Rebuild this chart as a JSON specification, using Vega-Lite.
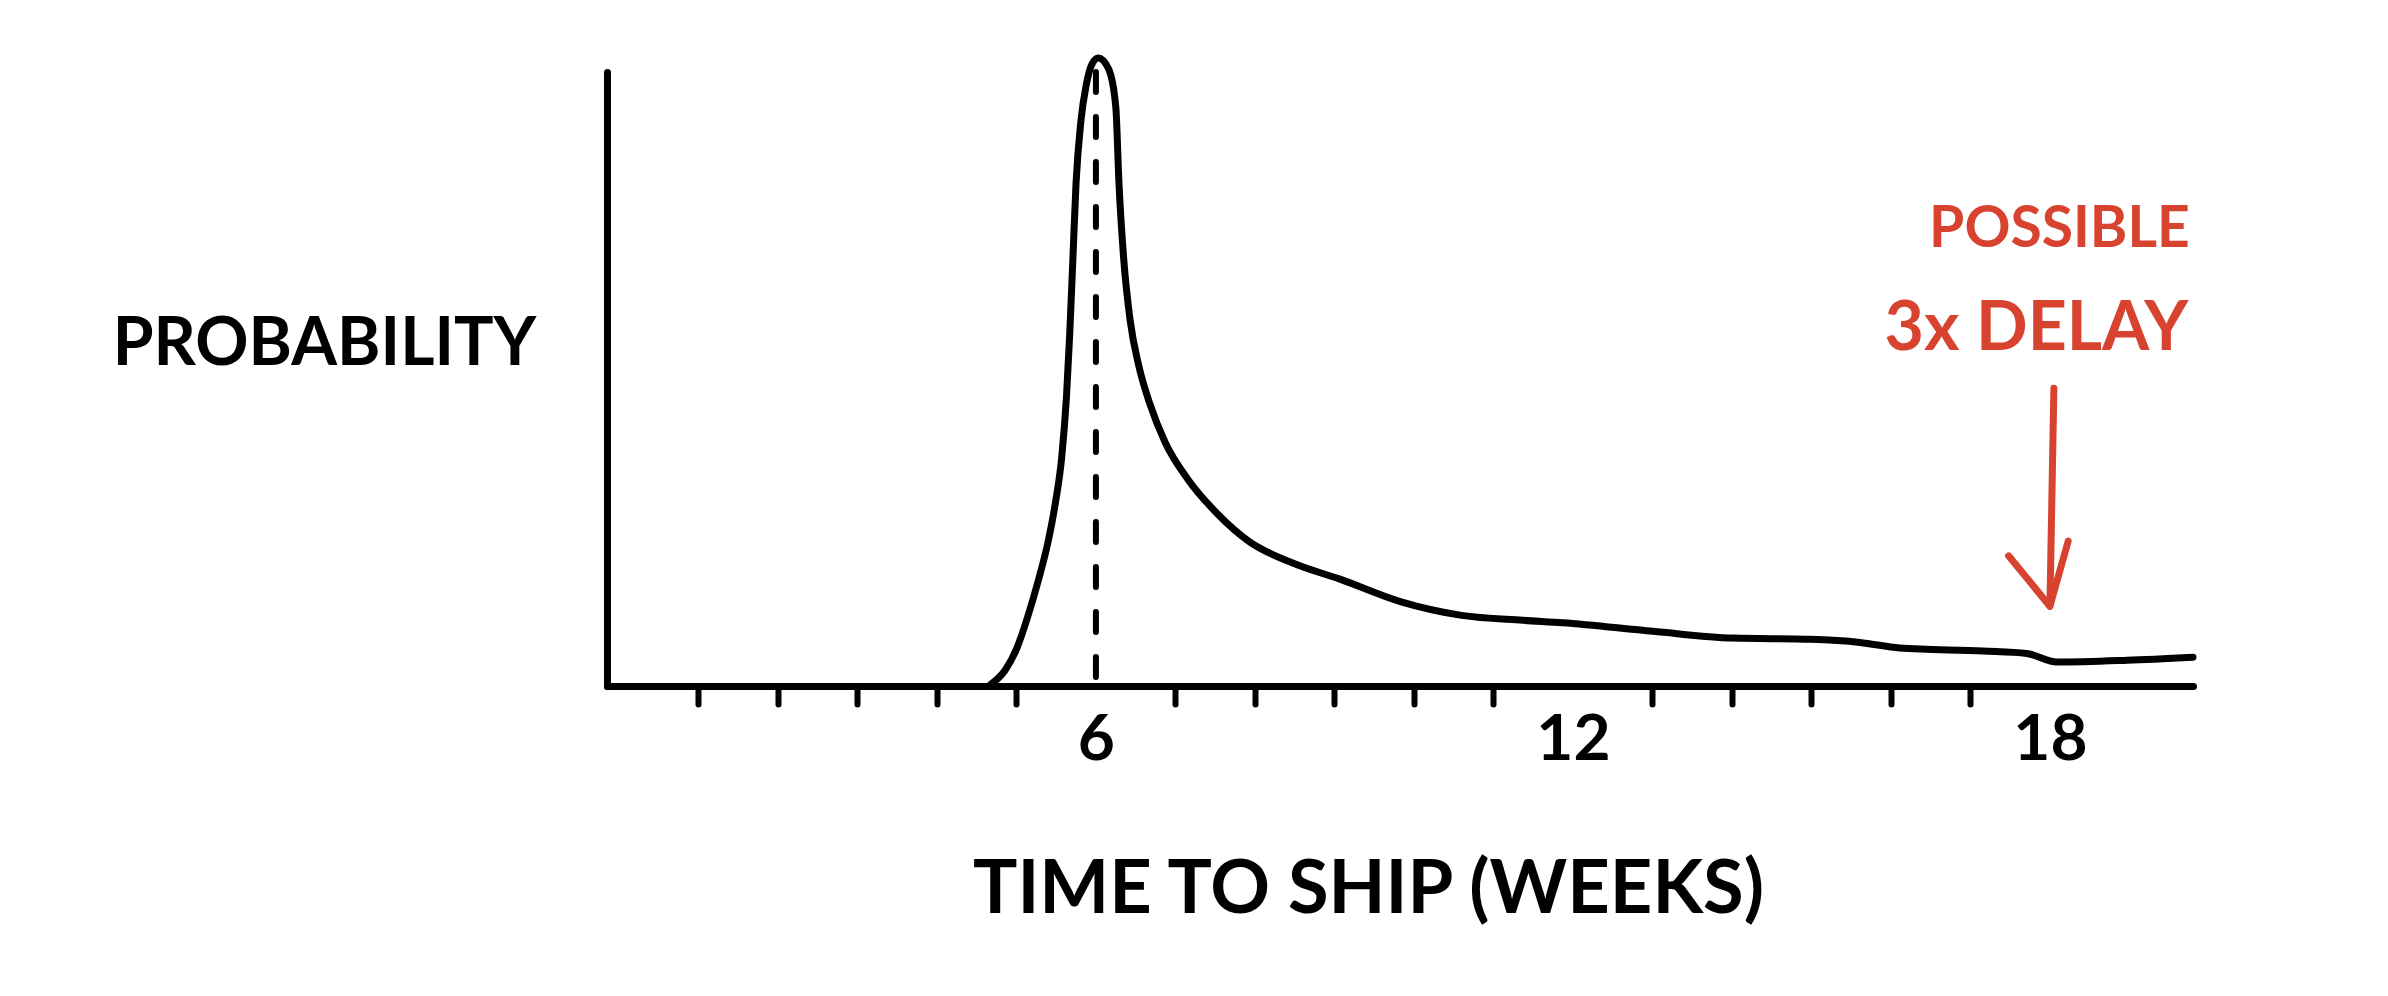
{
  "$schema": "https://vega.github.io/schema/vega-lite/v6.json",
  "width": 1586,
  "height": 614,
  "autosize": "none",
  "padding": {"left": 607, "top": 72, "right": 195, "bottom": 310},
  "background": "white",
  "config": {"view": {"stroke": null}, "font": "Lato"},
  "datasets": {
    "curve": [
      {"week": 4.67, "value": 0.2},
      {"week": 4.86, "value": 2.6},
      {"week": 5.01, "value": 6.3},
      {"week": 5.14, "value": 11.2},
      {"week": 5.28, "value": 17.4},
      {"week": 5.4, "value": 23.6},
      {"week": 5.49, "value": 29.8},
      {"week": 5.57, "value": 37.3},
      {"week": 5.63, "value": 47.2},
      {"week": 5.67, "value": 57.2},
      {"week": 5.71, "value": 69.5},
      {"week": 5.75, "value": 81.9},
      {"week": 5.81, "value": 91.9},
      {"week": 5.88, "value": 98.0},
      {"week": 5.95, "value": 101.3},
      {"week": 6.03, "value": 102.3},
      {"week": 6.16, "value": 100.5},
      {"week": 6.25, "value": 94.3},
      {"week": 6.29, "value": 81.9},
      {"week": 6.35, "value": 69.5},
      {"week": 6.43, "value": 59.6},
      {"week": 6.54, "value": 52.1},
      {"week": 6.68, "value": 45.9},
      {"week": 6.87, "value": 39.7},
      {"week": 7.16, "value": 33.6},
      {"week": 7.54, "value": 27.9},
      {"week": 7.92, "value": 23.6},
      {"week": 8.5, "value": 19.9},
      {"week": 9.07, "value": 17.4},
      {"week": 9.84, "value": 13.7},
      {"week": 10.6, "value": 11.5},
      {"week": 11.37, "value": 10.7},
      {"week": 11.87, "value": 10.3},
      {"week": 13.01, "value": 8.9},
      {"week": 14.01, "value": 7.8},
      {"week": 14.98, "value": 7.6},
      {"week": 15.61, "value": 7.1},
      {"week": 16.11, "value": 6.2},
      {"week": 17.16, "value": 5.7},
      {"week": 17.71, "value": 5.3},
      {"week": 18.09, "value": 3.9},
      {"week": 18.97, "value": 4.2},
      {"week": 19.8, "value": 4.7}
    ],
    "estimate": [
      {"week": 6, "low": 0, "high": 100}
    ],
    "arrow": [
      {"part": "shaft", "order": 1, "week": 18.05, "value": 48.5},
      {"part": "shaft", "order": 2, "week": 18.0, "value": 13.0},
      {"part": "head", "order": 1, "week": 17.48, "value": 21.2},
      {"part": "head", "order": 2, "week": 18.0, "value": 13.0},
      {"part": "head", "order": 3, "week": 18.23, "value": 23.6}
    ],
    "notes": [
      {"week": 18.12, "value": 74.3, "label": "POSSIBLE", "line": 1},
      {"week": 17.83, "value": 58.0, "label": "3x DELAY", "line": 2}
    ]
  },
  "layer": [
    {
      "data": {"name": "curve"},
      "mark": {"type": "line", "interpolate": "monotone", "strokeWidth": 7, "color": "black", "strokeCap": "round", "strokeJoin": "round"},
      "encoding": {
        "x": {
          "field": "week",
          "type": "quantitative",
          "scale": {"domain": [-0.15, 19.8], "nice": false, "zero": false},
          "axis": {
            "values": [1, 2, 3, 4, 5, 6, 7, 8, 9, 10, 11, 12, 13, 14, 15, 16, 17, 18],
            "domain": true,
            "domainWidth": 7,
            "domainColor": "black",
            "domainCap": "round",
            "ticks": true,
            "tickSize": 18,
            "tickWidth": 6,
            "tickColor": "black",
            "tickCap": "round",
            "tickOpacity": {"condition": {"test": "datum.value % 6 === 0", "value": 0}, "value": 1},
            "labelExpr": "datum.value % 6 === 0 ? format(datum.value, 'd') : ''",
            "labelFontSize": 64,
            "labelFont": "Lato",
            "labelFontWeight": "bold",
            "labelColor": "black",
            "labelPadding": 36,
            "labelBaseline": "middle",
            "labelFlush": false,
            "labelOverlap": false,
            "grid": false,
            "title": "TIME TO SHIP (WEEKS)",
            "titleFont": "Lato",
            "titleFontSize": 74,
            "titleFontWeight": "bold",
            "titleColor": "black",
            "titleX": 761,
            "titleY": 204,
            "titleAlign": "center",
            "titleBaseline": "middle"
          }
        },
        "y": {
          "field": "value",
          "type": "quantitative",
          "scale": {"domain": [0, 100], "nice": false},
          "axis": {
            "domain": true,
            "domainWidth": 7,
            "domainColor": "black",
            "domainCap": "round",
            "ticks": false,
            "labels": false,
            "grid": false,
            "title": "PROBABILITY",
            "titleAngle": 0,
            "titleX": -283,
            "titleY": 272,
            "titleAlign": "center",
            "titleBaseline": "middle",
            "titleFont": "Lato",
            "titleFontSize": 66,
            "titleFontWeight": "bold",
            "titleColor": "black"
          }
        }
      }
    },
    {
      "data": {"name": "estimate"},
      "mark": {"type": "rule", "strokeWidth": 6, "color": "black", "strokeDash": [20, 25], "strokeCap": "round"},
      "encoding": {
        "x": {"field": "week", "type": "quantitative"},
        "y": {"field": "high", "type": "quantitative"},
        "y2": {"field": "low"}
      }
    },
    {
      "data": {"name": "arrow"},
      "mark": {"type": "line", "strokeWidth": 7, "color": "#d8432f", "strokeCap": "round", "strokeJoin": "round"},
      "encoding": {
        "x": {"field": "week", "type": "quantitative"},
        "y": {"field": "value", "type": "quantitative"},
        "detail": {"field": "part"},
        "order": {"field": "order"}
      }
    },
    {
      "data": {"name": "notes"},
      "transform": [{"filter": "datum.line === 1"}],
      "mark": {"type": "text", "font": "Lato", "fontSize": 57, "fontWeight": "bold", "color": "#d8432f", "align": "center", "baseline": "middle"},
      "encoding": {
        "x": {"field": "week", "type": "quantitative"},
        "y": {"field": "value", "type": "quantitative"},
        "text": {"field": "label"}
      }
    },
    {
      "data": {"name": "notes"},
      "transform": [{"filter": "datum.line === 2"}],
      "mark": {"type": "text", "font": "Lato", "fontSize": 68, "fontWeight": "bold", "color": "#d8432f", "align": "center", "baseline": "middle"},
      "encoding": {
        "x": {"field": "week", "type": "quantitative"},
        "y": {"field": "value", "type": "quantitative"},
        "text": {"field": "label"}
      }
    }
  ]
}
